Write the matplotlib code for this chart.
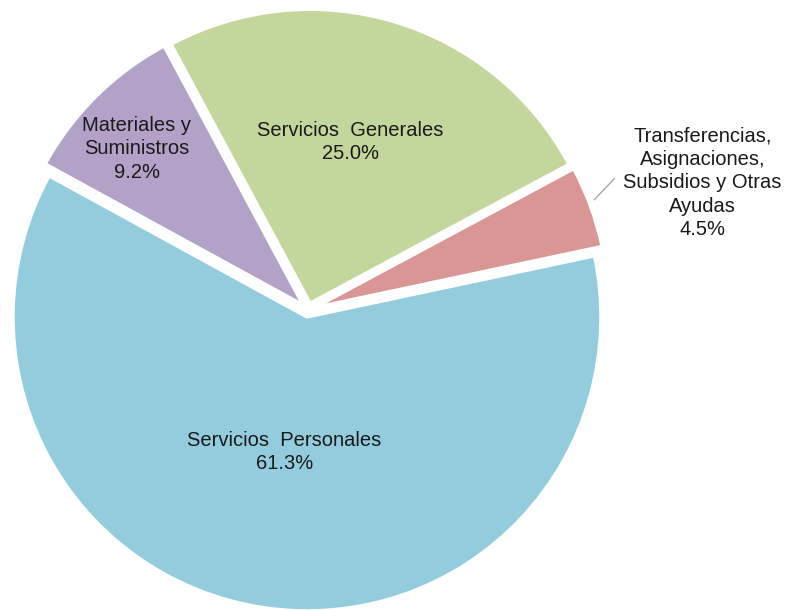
import numpy as np
import matplotlib.pyplot as plt

plt.rcParams['font.family'] = ['Liberation Sans', 'DejaVu Sans']

# chapter of spending and share of budget (%)
categories = ['Servicios  Personales', 'Materiales y\nSuministros',
              'Servicios  Generales',
              'Transferencias,\nAsignaciones,\nSubsidios y Otras\nAyudas']
shares = [61.3, 9.2, 25.0, 4.5]
colors = ['#93CDDD', '#B3A2C7', '#C3D69B', '#D99694']

# label placement: fraction of radius and angle nudge (deg) from slice middle
label_dist = [0.49, 0.80, 0.59, 1.41]
label_turn = [-1.0, 2.0, 2.7, -2.2]

fig = plt.figure(figsize=(7.88, 6.10), dpi=100)
ax = fig.add_axes([0, 0, 1, 1])

cx, cy, r = 308, 300, 294
# explode is in data units here (1 unit = 1 pixel)
wedges, _ = ax.pie(shares, colors=colors, startangle=12, counterclock=False,
                   explode=[7] * 4, radius=r, center=(cx, cy),
                   wedgeprops=dict(edgecolor='white', linewidth=2.5))
# pie() resets the limits, so set them afterwards
ax.set_xlim(0, 788)
ax.set_ylim(0, 610)
ax.set_aspect('equal')
ax.axis('off')

for w, lab, val, d, t in zip(wedges, categories, shares, label_dist, label_turn):
    mid = np.deg2rad((w.theta1 + w.theta2) / 2)
    ang = mid + np.deg2rad(t)
    x = cx + d * r * np.cos(ang)
    y = cy + d * r * np.sin(ang)
    ax.text(x, y, f'{lab}\n{val:.1f}%', ha='center', va='center',
            fontsize=14.5, color='#1a1a1a', linespacing=1.3)
    if d > 1:
        # leader line for the outside label
        wx, wy = w.center
        a0 = mid + np.deg2rad(1.0)
        x0 = wx + 1.02 * r * np.cos(a0)
        y0 = wy + 1.02 * r * np.sin(a0)
        ax.plot([x0, x0 + 20], [y0, y0 + 21], color='#a6a6a6', lw=1)

fig.savefig('out.png', dpi=100)
